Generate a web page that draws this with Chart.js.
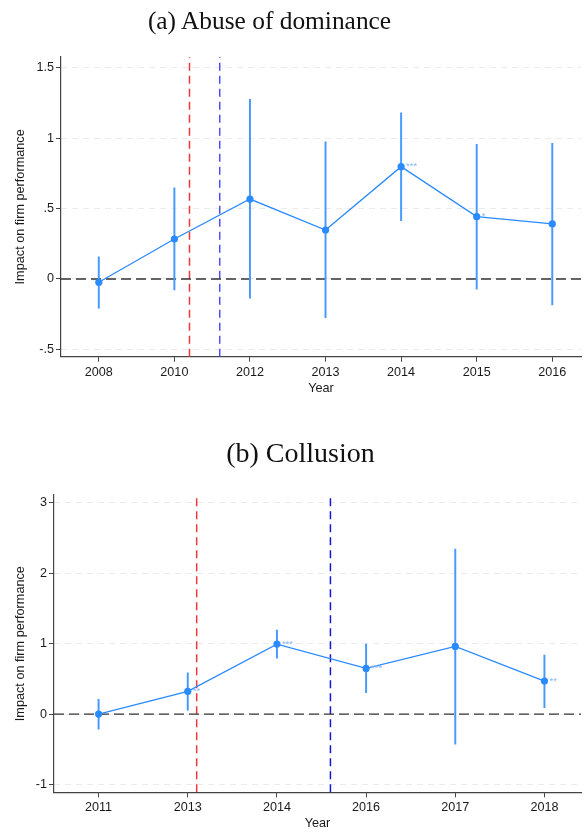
<!DOCTYPE html>
<html>
<head>
<meta charset="utf-8">
<script src="https://cdn.jsdelivr.net/npm/chart.js@4.4.1/dist/chart.umd.min.js"></script>
<style>
  html, body { margin: 0; padding: 0; background: #fff; }
  #page { position: relative; width: 585px; height: 832px; overflow: hidden; }
  canvas { position: absolute; left: 0; }
  .panel-title {
    position: absolute;
    font-family: "Liberation Serif", "Times New Roman", serif;
    color: #111;
    line-height: 1;
    white-space: nowrap;
    transform: translateX(-50%);
  }
</style>
</head>
<body>
<div id="page">
  <canvas id="chartA" width="585" height="400" style="top:0"></canvas>
  <canvas id="chartB" width="585" height="412" style="top:420px"></canvas>
  <div class="panel-title" style="left:269.5px; top:8px; font-size:25.4px;">(a) Abuse of dominance</div>
  <div class="panel-title" style="left:300.5px; top:439px; font-size:28px;">(b) Collusion</div>
</div>
<script>
// (a) Abuse of dominance
const yearsA = ["2008", "2010", "2012", "2013", "2014", "2015", "2016"];
const coefA = [-0.023, 0.284, 0.568, 0.348, 0.798, 0.443, 0.391];
const lowA = [-0.208, -0.078, -0.137, -0.275, 0.414, -0.073, -0.185];
const highA = [0.158, 0.648, 1.276, 0.975, 1.181, 0.957, 0.964];
const starsA = ["", "", "", "", "***", "*", ""];
const eventsA = [1.2, 1.6]; // in year-index units
const yTicksA = [-0.5, 0, 0.5, 1, 1.5];
const yTickLabelsA = ["-.5", "0", ".5", "1", "1.5"];

// (b) Collusion
const yearsB = ["2011", "2013", "2014", "2016", "2017", "2018"];
const coefB = [0, 0.322, 0.994, 0.649, 0.961, 0.469];
const lowB = [-0.213, 0.057, 0.795, 0.303, -0.426, 0.09];
const highB = [0.21, 0.587, 1.193, 0.994, 2.344, 0.838];
const starsB = ["", "**", "***", "***", "", "**"];
const eventsB = [1.1, 2.6];
const yTicksB = [-1, 0, 1, 2, 3];
const yTickLabelsB = ["-1", "0", "1", "2", "3"];

const SERIES = "#2a8aff";
const CI = "#4599ff";
const AXIS = "#444";

Chart.defaults.font.family = "'Liberation Sans', Arial, sans-serif";
Chart.defaults.font.size = 12.6;
Chart.defaults.color = "#1a1a1a";

const starLabels = {
  id: "starLabels",
  afterDatasetsDraw(chart, args, opts) {
    const meta = chart.getDatasetMeta(opts.datasetIndex);
    const ctx = chart.ctx;
    ctx.save();
    ctx.font = "9.5px 'Liberation Sans', Arial, sans-serif";
    ctx.fillStyle = "#86b8ff";
    ctx.textBaseline = "middle";
    meta.data.forEach((pt, i) => {
      if (opts.stars[i]) ctx.fillText(opts.stars[i], pt.x + 5, pt.y);
    });
    ctx.restore();
  },
};

function buildPanel(canvasId, p) {
  const points = p.coef.map((v, i) => ({ x: i, y: v }));
  const bars = p.low.map((v, i) => ({ x: i, y: [v, p.high[i]] }));
  const eventSets = p.events.map((e, k) => ({
    type: "line",
    data: [{ x: e, y: p.yMin }, { x: e, y: p.yMax }],
    borderColor: p.eventColors[k],
    borderWidth: 1.5,
    borderDash: [8, 5],
    pointRadius: 0,
    order: 5,
  }));

  return new Chart(document.getElementById(canvasId), {
    type: "line",
    data: {
      datasets: [
        {
          type: "line",
          data: points,
          borderColor: SERIES,
          borderWidth: 1.3,
          pointRadius: 3.6,
          pointBackgroundColor: SERIES,
          pointBorderWidth: 0,
          order: 1,
        },
        {
          type: "bar",
          data: bars,
          backgroundColor: CI,
          barThickness: 1.3,
          borderWidth: 0,
          order: 2,
        },
        {
          type: "line",
          data: [{ x: p.xMin, y: 0 }, { x: p.xMax, y: 0 }],
          borderColor: "#333",
          borderWidth: 1.4,
          borderDash: [10, 5],
          pointRadius: 0,
          order: 4,
        },
        ...eventSets,
      ],
    },
    options: {
      responsive: false,
      animation: false,
      layout: { padding: { top: p.chartTop, left: 0, right: 0, bottom: 0 } },
      plugins: {
        legend: { display: false },
        tooltip: { enabled: false },
        starLabels: { datasetIndex: 0, stars: p.stars },
      },
      scales: {
        x: {
          type: "linear",
          min: p.xMin,
          max: p.xMax,
          offset: false,
          afterBuildTicks: (s) => { s.ticks = p.years.map((_, i) => ({ value: i })); },
          afterFit: (s) => { s.height = p.xAxisHeight; },
          ticks: {
            callback: (v) => p.years[v],
            padding: 3,
            maxRotation: 0,
            autoSkip: false,
          },
          grid: { offset: false, drawOnChartArea: false, tickLength: 5, tickColor: AXIS, tickBorderDash: [] },
          border: { color: AXIS, width: 1.2 },
          title: {
            display: true,
            text: "Year",
            font: { size: 12.7 },
            padding: { top: 0, bottom: p.yearPad },
          },
        },
        y: {
          type: "linear",
          min: p.yMin,
          max: p.yMax,
          afterBuildTicks: (s) => { s.ticks = p.yTicks.map((v) => ({ value: v })); },
          afterFit: (s) => { s.width = p.yAxisWidth; },
          ticks: {
            callback: (v) => p.yTickLabels[p.yTicks.indexOf(v)],
            padding: 2,
          },
          grid: { color: "#ebebeb", lineWidth: 1, tickLength: 5, tickColor: AXIS, tickBorderDash: [] },
          border: { color: AXIS, width: 1.2, dash: [6, 5] },
          title: {
            display: true,
            text: "Impact on firm performance",
            font: { size: 12.7 },
            padding: { top: 13, bottom: 0 },
          },
        },
      },
    },
    plugins: [starLabels],
  });
}

buildPanel("chartA", {
  years: yearsA, coef: coefA, low: lowA, high: highA, stars: starsA,
  events: eventsA, eventColors: ["#ee3838", "#4b4bff"],
  yTicks: yTicksA, yTickLabels: yTickLabelsA,
  yMin: -0.552, yMax: 1.577, xMin: -0.5, xMax: 6.38,
  chartTop: 57, xAxisHeight: 43.3, yAxisWidth: 61, yearPad: 3.4,
});

buildPanel("chartB", {
  years: yearsB, coef: coefB, low: lowB, high: highB, stars: starsB,
  events: eventsB, eventColors: ["#ee3838", "#1414dd"],
  yTicks: yTicksB, yTickLabels: yTickLabelsB,
  yMin: -1.11, yMax: 3.11, xMin: -0.5, xMax: 5.41,
  chartTop: 75, xAxisHeight: 39.7, yAxisWidth: 54, yearPad: 1.1,
});
</script>
</body>
</html>
